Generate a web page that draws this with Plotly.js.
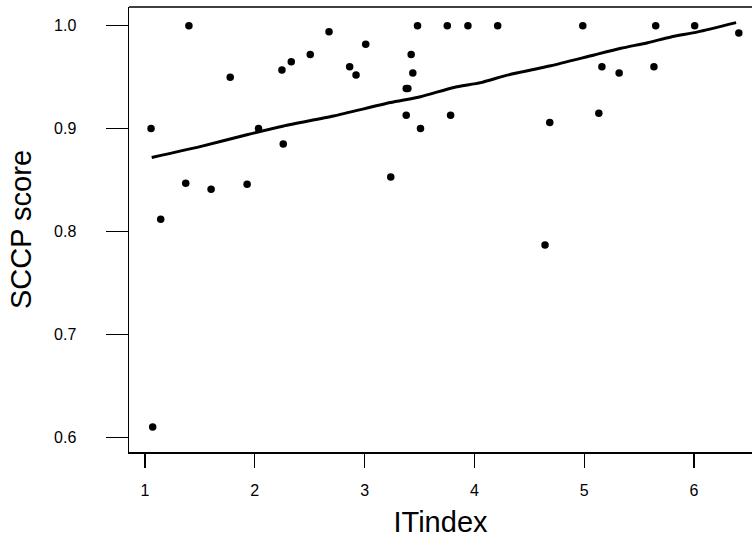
<!DOCTYPE html>
<html>
<head>
<meta charset="utf-8">
<script src="https://cdn.plot.ly/plotly-3.0.1.min.js"></script>
<style>html,body{margin:0;padding:0;background:#fff;}#chart{width:752px;height:543px;}</style>
</head>
<body>
<div id="chart"></div>
<script>
// Observed points
const itIndex = [1.055, 1.07, 1.143, 1.371, 1.40, 1.602, 1.776, 1.93, 2.034, 2.247,
  2.259, 2.332, 2.505, 2.676, 2.864, 2.922, 3.01, 3.238, 3.379, 3.394,
  3.379, 3.424, 3.439, 3.482, 3.509, 3.753, 3.783, 3.941, 4.212, 4.643,
  4.686, 4.987, 5.133, 5.161, 5.318, 5.635, 5.651, 6.006, 6.408];
const sccpScore = [0.900, 0.610, 0.812, 0.847, 1.000, 0.841, 0.950, 0.846, 0.900, 0.957,
  0.885, 0.965, 0.972, 0.994, 0.960, 0.952, 0.982, 0.853, 0.939, 0.939,
  0.913, 0.972, 0.954, 1.000, 0.900, 1.000, 0.913, 1.000, 1.000, 0.787,
  0.906, 1.000, 0.915, 0.960, 0.954, 0.960, 1.000, 1.000, 0.993];

// Smoothed fit line
const fitX = [1.061, 1.502, 1.928, 2.262, 2.718, 3.235, 3.509, 3.813, 4.057, 4.30,
  4.695, 5.09, 5.334, 5.578, 5.79, 6.034, 6.383];
const fitY = [0.872, 0.8825, 0.894, 0.9026, 0.9123, 0.9253, 0.931, 0.940, 0.9447, 0.952,
  0.961, 0.9716, 0.978, 0.9835, 0.989, 0.994, 1.003];

const xTicks = [1, 2, 3, 4, 5, 6];
const yTicks = [0.6, 0.7, 0.8, 0.9, 1.0];
const yTickText = ["0.6", "0.7", "0.8", "0.9", "1.0"];

const font = "Liberation Sans, Arial, sans-serif";

const traces = [
  {x: itIndex, y: sccpScore, type: "scatter", mode: "markers",
   marker: {color: "#000", size: 7.5}, hoverinfo: "x+y"},
  {x: fitX, y: fitY, type: "scatter", mode: "lines",
   line: {color: "#000", width: 3, shape: "spline", smoothing: 0.6}}
];

const layout = {
  width: 752, height: 543,
  margin: {l: 129, r: 0, t: 7, b: 91},
  paper_bgcolor: "#fff", plot_bgcolor: "#fff",
  showlegend: false,
  font: {family: font, color: "#000"},
  xaxis: {
    range: [0.8543, 6.528], autorange: false,
    tickmode: "array", tickvals: xTicks, ticktext: xTicks.map(String),
    ticks: "outside", ticklen: 14, tickwidth: 1.3, tickcolor: "#000",
    ticklabelstandoff: 9,
    tickfont: {size: 16, family: font, color: "#000"},
    showline: true, linecolor: "#000", linewidth: 1.5,
    showgrid: false, zeroline: false,
    title: {text: "ITindex", font: {size: 29, family: font, color: "#000"}, standoff: 14}
  },
  yaxis: {
    range: [0.5858, 1.01816], autorange: false,
    tickmode: "array", tickvals: yTicks, ticktext: yTickText,
    ticks: "outside", ticklen: 22, tickwidth: 1.3, tickcolor: "#000",
    ticklabelstandoff: 26,
    tickfont: {size: 16, family: font, color: "#000"},
    showline: true, linecolor: "#000", linewidth: 1.5,
    showgrid: false, zeroline: false,
    title: {text: "SCCP score", font: {size: 29, family: font, color: "#000"}, standoff: 14}
  },
  shapes: [
    {type: "line", xref: "paper", yref: "paper", x0: 0, x1: 1, y0: 1, y1: 1,
     line: {color: "#000", width: 1.5}}
  ]
};

Plotly.newPlot("chart", traces, layout, {staticPlot: true, displayModeBar: false});
</script>
</body>
</html>
